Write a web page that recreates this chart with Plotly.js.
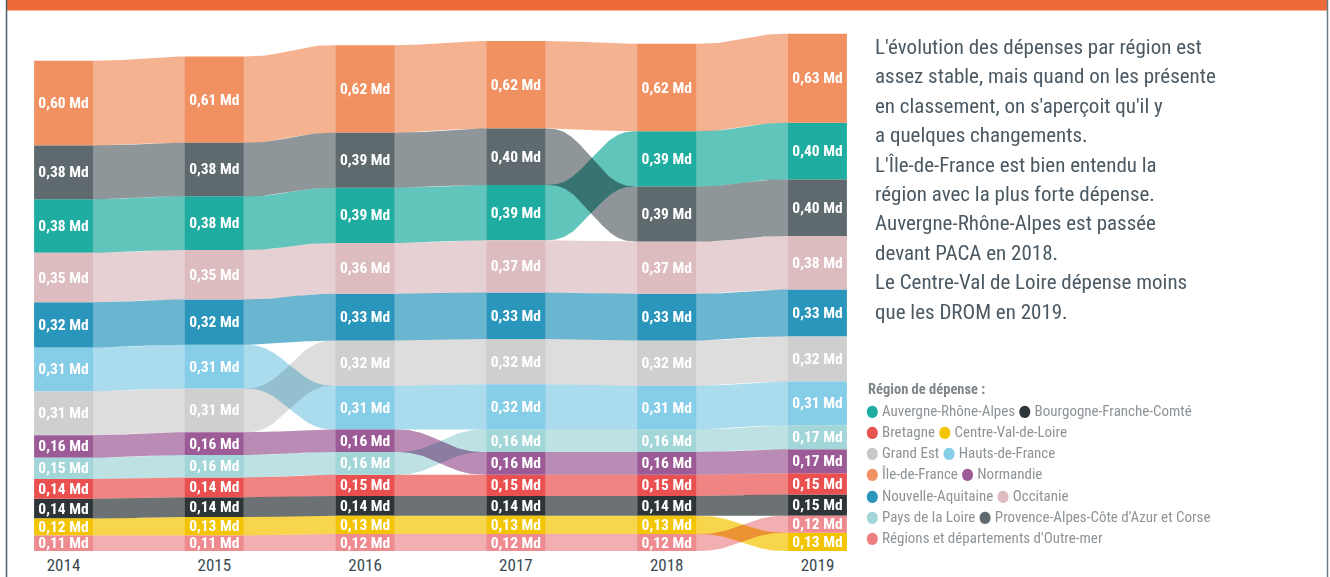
<!DOCTYPE html>
<html><head><meta charset="utf-8">
<script src="https://cdn.plot.ly/plotly-3.0.1.min.js"></script>
<style>html,body{margin:0;padding:0;background:#fff;overflow:hidden}#chart{width:1330px;height:577px}
#chart .js-fill{mix-blend-mode:multiply}</style>
</head><body><div id="chart"></div>
<script>
// ---------- DATA ----------
const years = [2014, 2015, 2016, 2017, 2018, 2019];
const regions = ["Auvergne-Rhône-Alpes", "Bourgogne-Franche-Comté", "Bretagne", "Centre-Val-de-Loire",
  "Grand Est", "Hauts-de-France", "Île-de-France", "Normandie", "Nouvelle-Aquitaine", "Occitanie",
  "Pays de la Loire", "Provence-Alpes-Côte d'Azur et Corse", "Régions et départements d'Outre-mer"];
// spending (Md €) per year
const ara       = [0.38, 0.38, 0.39, 0.39, 0.39, 0.40];
const bfc       = [0.14, 0.14, 0.14, 0.14, 0.14, 0.15];
const bretagne  = [0.14, 0.14, 0.15, 0.15, 0.15, 0.15];
const cvl       = [0.12, 0.13, 0.13, 0.13, 0.13, 0.13];
const grandEst  = [0.31, 0.31, 0.32, 0.32, 0.32, 0.32];
const hdf       = [0.31, 0.31, 0.31, 0.32, 0.31, 0.31];
const idf       = [0.60, 0.61, 0.62, 0.62, 0.62, 0.63];
const normandie = [0.16, 0.16, 0.16, 0.16, 0.16, 0.17];
const nouvAq    = [0.32, 0.32, 0.33, 0.33, 0.33, 0.33];
const occitanie = [0.35, 0.35, 0.36, 0.37, 0.37, 0.38];
const pdl       = [0.15, 0.16, 0.16, 0.16, 0.16, 0.17];
const paca      = [0.38, 0.38, 0.39, 0.40, 0.39, 0.40];
const drom      = [0.11, 0.11, 0.12, 0.12, 0.12, 0.12];
// rank per year (1 = highest)
const rankAra       = [3, 3, 3, 3, 2, 2];
const rankBfc       = [11, 11, 11, 11, 11, 11];
const rankBretagne  = [10, 10, 10, 10, 10, 10];
const rankCvl       = [12, 12, 12, 12, 12, 13];
const rankGrandEst  = [7, 7, 6, 6, 6, 6];
const rankHdf       = [6, 6, 7, 7, 7, 7];
const rankIdf       = [1, 1, 1, 1, 1, 1];
const rankNormandie = [8, 8, 8, 9, 9, 9];
const rankNouvAq    = [5, 5, 5, 5, 5, 5];
const rankOccitanie = [4, 4, 4, 4, 4, 4];
const rankPdl       = [9, 9, 9, 8, 8, 8];
const rankPaca      = [2, 2, 2, 2, 3, 3];
const rankDrom      = [13, 13, 13, 13, 13, 12];
const paragraph = [
  "L'évolution des dépenses par région est",
  "assez stable, mais quand on les présente",
  "en classement, on s'aperçoit qu'il y",
  "a quelques changements.",
  "L'Île-de-France est bien entendu la",
  "région avec la plus forte dépense.",
  "Auvergne-Rhône-Alpes est passée",
  "devant PACA en 2018.",
  "Le Centre-Val de Loire dépense moins",
  "que les DROM en 2019."
];
const legendTitle = "Région de dépense :";

// ---------- STYLE ----------
const colors = ['#1EADA0', '#2D3538', '#E9504F', '#F3C500', '#CFCFCF', '#86CDE7', '#F19162',
  '#9C5B96', '#2B96BC', '#DDBCC0', '#A3D6D8', '#5E6A6D', '#EE8B90'];
const legendColors = ['#1EADA0', '#2D3538', '#E8524F', '#F3C500', '#C8C8C8', '#86CDE7', '#F19162',
  '#9C5B96', '#2B96BC', '#DDBCC0', '#A3D6D8', '#5E6A6D', '#EE7F80'];
const F = '"Roboto Condensed", "Liberation Sans Narrow", "DejaVu Sans Condensed", Roboto, sans-serif';
const W = 0.39;

const values = [ara, bfc, bretagne, cvl, grandEst, hdf, idf, normandie, nouvAq, occitanie, pdl, paca, drom];
const ranks = [rankAra, rankBfc, rankBretagne, rankCvl, rankGrandEst, rankHdf, rankIdf, rankNormandie,
  rankNouvAq, rankOccitanie, rankPdl, rankPaca, rankDrom];

// base of each segment = sum of the regions ranked below
const bases = values.map((v, i) => years.map((y, j) => {
  let b = 0;
  values.forEach((o, k) => { if (ranks[k][j] > ranks[i][j]) b += o[j]; });
  return b;
}));

function rgba(hex, a) {
  const n = parseInt(hex.slice(1), 16);
  return `rgba(${n >> 16},${(n >> 8) & 255},${n & 255},${a})`;
}
function ease(t) { return t * t * t * (t * (t * 6 - 15) + 10); }
function fmt(v) { return v.toFixed(2).replace('.', ',') + ' Md'; }

const traces = [];
// ribbons
values.forEach((v, i) => {
  const xs = [], ys = [];
  for (let j = 0; j < years.length - 1; j++) {
    const xa = years[j] + W / 2 - 0.001, xb = years[j + 1] - W / 2 + 0.001;
    const ta = bases[i][j] + v[j], ba = bases[i][j];
    const tb = bases[i][j + 1] + v[j + 1], bb = bases[i][j + 1];
    const N = 60;
    for (let k = 0; k <= N; k++) { const t = k / N, e = ease(t); xs.push(xa + (xb - xa) * t); ys.push(ta + (tb - ta) * e); }
    for (let k = N; k >= 0; k--) { const t = k / N, e = ease(t); xs.push(xa + (xb - xa) * t); ys.push(ba + (bb - ba) * e); }
    xs.push(null); ys.push(null);
  }
  traces.push({type: 'scatter', x: xs, y: ys, mode: 'lines', fill: 'toself',
    fillcolor: rgba(colors[i], 0.7), line: {width: 0}, hoverinfo: 'skip', showlegend: false});
});
// bars
values.forEach((v, i) => {
  traces.push({type: 'bar', x: years, y: v, base: bases[i], width: W, name: regions[i],
    marker: {color: colors[i], line: {width: 0}},
    text: v.map(fmt), textposition: 'inside', insidetextanchor: 'middle', textangle: 0,
    constraintext: 'none', textfont: {family: F, size: 15.5, color: '#ffffff', weight: 700},
    hoverinfo: 'skip', showlegend: false});
});

// pixel helpers (plot area = full width, height 551)
const PH = 551;
const px = x => x / 1330;
const py = y => (PH - y) / PH;

const annotations = [];
const lineY0 = 47, lineDy = 29.4;
paragraph.forEach((t, i) => annotations.push({xref: 'paper', yref: 'paper', x: px(873), y: py(lineY0 + i * lineDy),
  xanchor: 'left', yanchor: 'middle', showarrow: false, text: t, align: 'left',
  font: {family: F, size: 21, color: '#4B5963'}}));

annotations.push({xref: 'paper', yref: 'paper', x: px(866), y: py(389), xanchor: 'left', yanchor: 'middle',
  showarrow: false, text: legendTitle, font: {family: F, size: 14.5, color: '#7F868A', weight: 700}});
const dot = i => `<span style="color:${legendColors[i]};font-size:16px">●</span>`;
const rows = [[0, 1], [2, 3], [4, 5], [6, 7], [8, 9], [10, 11], [12]];
rows.forEach((r, k) => {
  const txt = r.map(i => dot(i) + ' ' + regions[i]).join(' ');
  annotations.push({xref: 'paper', yref: 'paper', x: px(865), y: py(410 + k * 21.3), xanchor: 'left', yanchor: 'middle',
    showarrow: false, text: txt, borderpad: 0, font: {family: F, size: 15, color: '#8E9397'}});
});

const shapes = [
  {type: 'rect', xref: 'paper', yref: 'paper', x0: px(7), x1: px(1327), y0: py(10.5), y1: py(0),
    fillcolor: '#EC6A37', line: {width: 0}, layer: 'above'},
  {type: 'line', xref: 'paper', yref: 'paper', x0: px(6.5), x1: px(6.5), y0: py(0), y1: py(577),
    line: {color: '#4D5E68', width: 1.5}},
  {type: 'line', xref: 'paper', yref: 'paper', x0: px(1327.5), x1: px(1327.5), y0: py(0), y1: py(577),
    line: {color: '#6D7C84', width: 1.5}}
];

const x0 = 2014 - 63.5 / 150.8;
const layout = {
  width: 1330, height: 577, margin: {l: 0, r: 0, t: 0, b: 26, pad: 0},
  paper_bgcolor: '#ffffff', plot_bgcolor: '#ffffff', barmode: 'overlay', showlegend: false,
  xaxis: {range: [x0, x0 + 1330 / 150.8], tickvals: years, ticktext: years.map(String), showgrid: false,
    zeroline: false, showline: false, ticks: '', ticklabelstandoff: 2,
    tickfont: {family: F, size: 17, color: '#3B4A52'}, fixedrange: true},
  yaxis: {range: [0, PH / 141.3], visible: false, fixedrange: true},
  shapes: shapes, annotations: annotations, hovermode: false
};
Plotly.newPlot('chart', traces, layout, {staticPlot: true, displayModeBar: false});
</script></body></html>
